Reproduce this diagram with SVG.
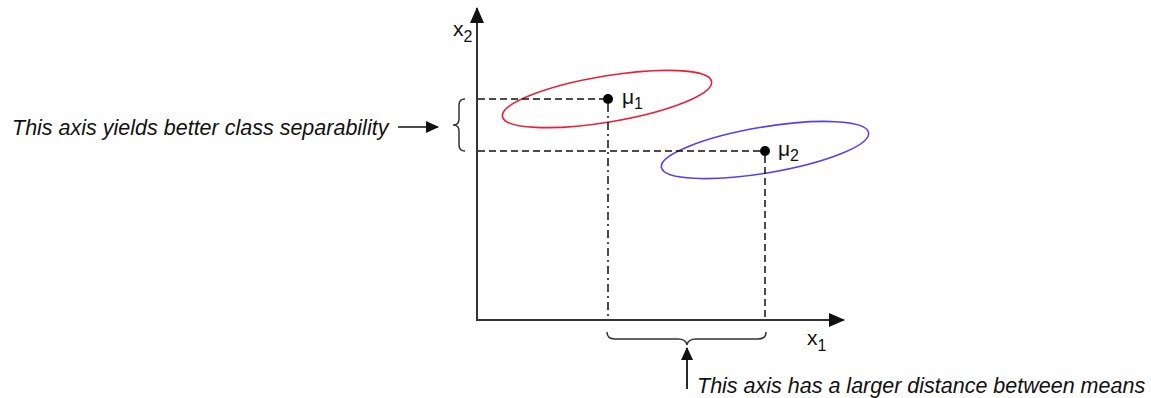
<svg xmlns="http://www.w3.org/2000/svg" width="1151" height="398" viewBox="0 0 1151 398">
<style>
.axis{stroke:#333;stroke-width:2;fill:none}
.dash{stroke:#111;stroke-width:1.5;fill:none;stroke-dasharray:7 4}
.dashdot{stroke:#111;stroke-width:1.5;fill:none;stroke-dasharray:8 4 2 4}
.brace{stroke:#333;stroke-width:1.5;fill:none}
.note{font-family:"Liberation Sans",Arial,sans-serif;font-style:italic;font-size:21.5px;fill:#111}
.lbl{font-family:"Liberation Sans",Arial,sans-serif;font-size:21px;fill:#111}
.sub{font-size:16px}
</style>
<defs>
<marker id="ah" markerWidth="16" markerHeight="14" refX="15" refY="7" orient="auto" markerUnits="userSpaceOnUse">
<path d="M0,0 L16,7 L0,14 Z" fill="#111"/>
</marker>
<marker id="ahs" markerWidth="13" markerHeight="12" refX="12" refY="6" orient="auto" markerUnits="userSpaceOnUse">
<path d="M0,0 L13,6 L0,12 Z" fill="#111"/>
</marker>
</defs>
<rect width="1151" height="398" fill="#fff"/>
<g id="axes">
<line class="axis" x1="477" y1="321" x2="477" y2="8" marker-end="url(#ah)"/>
<line class="axis" x1="476" y1="320" x2="844" y2="320" marker-end="url(#ah)"/>
<text class="lbl" x="453" y="36">x<tspan class="sub" dy="6">2</tspan></text>
<text class="lbl" x="807" y="345">x<tspan class="sub" dy="6">1</tspan></text>
</g>
<g id="class1">
<ellipse cx="607" cy="99" rx="106" ry="23" transform="rotate(-9.5 607 99)" fill="none" stroke="#e8203a" stroke-width="1.6"/>
<circle cx="608" cy="99" r="5" fill="#000"/>
<text class="lbl" x="622" y="104">μ<tspan class="sub" dy="5">1</tspan></text>
</g>
<g id="class2">
<ellipse cx="765" cy="150" rx="105" ry="23" transform="rotate(-9.5 765 150)" fill="none" stroke="#5b3cf2" stroke-width="1.6"/>
<circle cx="765" cy="151" r="5" fill="#000"/>
<text class="lbl" x="778" y="156">μ<tspan class="sub" dy="5">2</tspan></text>
</g>
<g id="connectors">
<line class="dash" x1="478" y1="99" x2="606" y2="99"/>
<line class="dash" x1="478" y1="151" x2="763" y2="151"/>
<line class="dashdot" x1="608" y1="104" x2="608" y2="320"/>
<line class="dash" x1="765" y1="156" x2="765" y2="320"/>
<line stroke="#111" stroke-width="1.5" x1="398" y1="127" x2="438" y2="127" marker-end="url(#ahs)"/>
<line stroke="#111" stroke-width="1.8" x1="687" y1="389" x2="687" y2="348" marker-end="url(#ahs)"/>
</g>
<g id="brace-left">
<path class="brace" d="M465,99 Q459,99 459,105 L459,119 Q459,125 453,125 Q459,125 459,131 L459,145 Q459,151 465,151"/>
</g>
<g id="brace-bottom">
<path class="brace" d="M607,332 Q607,339 615,339 L678,339 Q686,339 687,345 Q688,339 696,339 L758,339 Q766,339 766,332"/>
</g>
<g id="note-left">
<text class="note" x="12" y="135">This axis yields better class separability</text>
</g>
<g id="note-bottom">
<text class="note" x="697" y="393">This axis has a larger distance between means</text>
</g>
</svg>
